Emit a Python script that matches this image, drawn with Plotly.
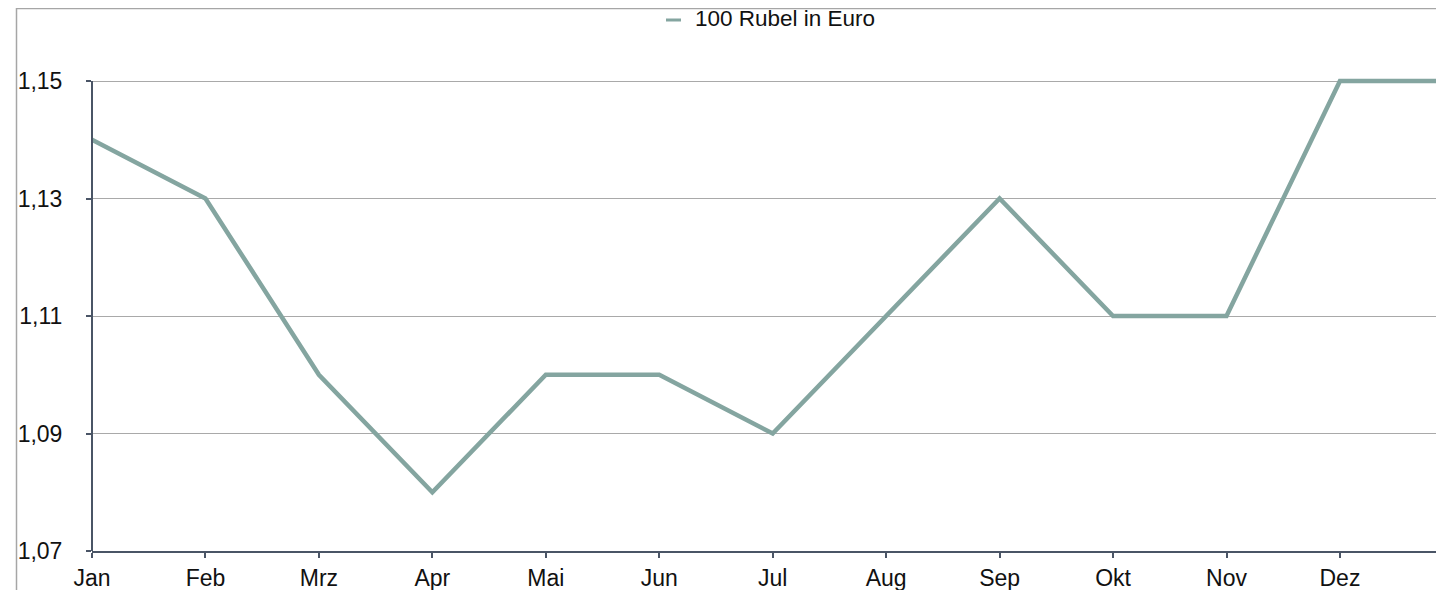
import plotly.graph_objects as go

months = ["Jan", "Feb", "Mrz", "Apr", "Mai", "Jun", "Jul", "Aug", "Sep", "Okt", "Nov", "Dez"]
values = [1.14, 1.13, 1.10, 1.08, 1.10, 1.10, 1.09, 1.11, 1.13, 1.11, 1.11, 1.15, 1.15]
y_ticks = [1.07, 1.09, 1.11, 1.13, 1.15]
series_name = "100 Rubel in Euro"

OFF = 8  # default body margin of the html page
W, H = 1444 - OFF, 590 - OFF
# target pixel positions in the page
P_LEFT, P_RIGHT, P_TOP, P_BOTTOM = 92, 1444, 10, 551
L = P_LEFT - OFF
R = 0
T = P_TOP - OFF
B = H - (P_BOTTOM - OFF)
pw, ph = W - L - R, H - T - B
step_px = 113.45
px_per_unit = 5875.0

LINE = "#84a5a0"
AXIS = "#4a5566"
GRID = "#a9a9a9"
FRAME = "#a6a6a6"
FONT = "Liberation Sans, Arial, Helvetica, sans-serif"

x = list(range(len(values)))

fig = go.Figure()
fig.add_trace(go.Scatter(
    x=x, y=values, mode="lines", name=series_name,
    line=dict(color=LINE, width=4.5), showlegend=False,
))

y0 = 1.07
y1 = y0 + ph / px_per_unit

def px_x(p):
    return (p - P_LEFT) / pw

def px_y(p):
    return (P_BOTTOM - p) / ph

fig.update_layout(
    width=W, height=H,
    margin=dict(l=L, r=R, t=T, b=B),
    paper_bgcolor="white", plot_bgcolor="white",
    separators=",.",
    font=dict(family=FONT, size=23, color="#111111"),
    xaxis=dict(
        range=[0, pw / step_px],
        tickmode="array", tickvals=list(range(len(months))), ticktext=months,
        showgrid=False, zeroline=False,
        showline=True, linecolor=AXIS, linewidth=2,
        ticks="outside", ticklen=5, tickwidth=2, tickcolor=AXIS,
        tickfont=dict(size=23, family=FONT, color="#111111"),
    ),
    yaxis=dict(
        range=[y0, y1],
        tickmode="array", tickvals=y_ticks, tickformat=".2f",
        showgrid=True, gridcolor=GRID, gridwidth=1,
        zeroline=False, showline=False,
        ticks="outside", ticklen=5, tickwidth=2, tickcolor=AXIS,
        ticklabelstandoff=19,
        tickfont=dict(size=23, family=FONT, color="#111111"),
    ),
    shapes=[
        dict(type="rect", xref="paper", yref="paper",
             x0=px_x(16.5), x1=1.02, y0=-0.2, y1=px_y(8.5),
             line=dict(color=FRAME, width=1.5), fillcolor="rgba(0,0,0,0)", layer="below"),
        dict(type="line", xref="paper", yref="y",
             x0=0, x1=0, y0=y_ticks[0], y1=y_ticks[-1],
             line=dict(color=AXIS, width=2)),
        dict(type="line", xref="paper", yref="paper",
             x0=px_x(666), x1=px_x(681), y0=px_y(20), y1=px_y(20),
             line=dict(color=LINE, width=3)),
    ],
    annotations=[
        dict(text=series_name, xref="paper", yref="paper",
             x=px_x(694), y=px_y(18.5), xanchor="left", yanchor="middle",
             borderpad=0, showarrow=False,
             font=dict(size=22.5, family=FONT, color="#111111")),
    ],
)

fig.write_html("out.html")
